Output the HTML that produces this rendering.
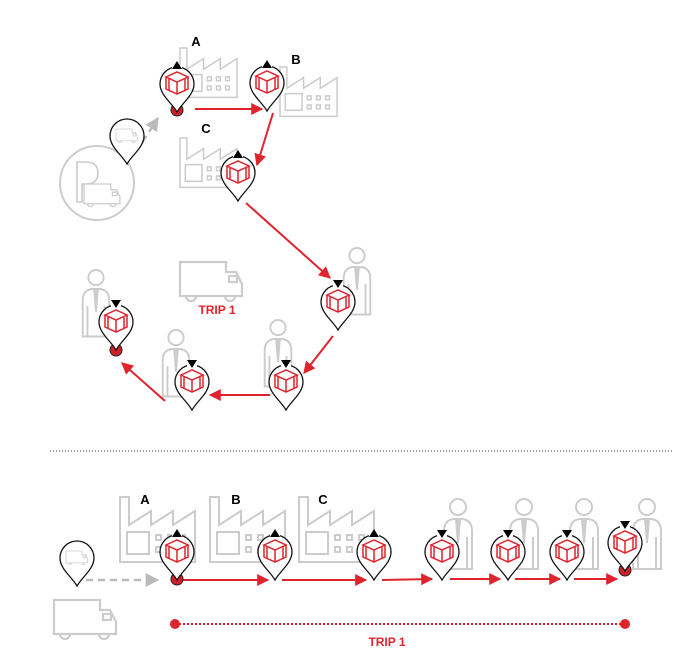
<!DOCTYPE html>
<html><head><meta charset="utf-8"><style>
html,body{margin:0;padding:0;background:#fff;}
svg{display:block;}
text{font-family:"Liberation Sans",sans-serif;font-weight:bold;}
</style></head><body>
<svg width="698" height="668" viewBox="0 0 698 668" xmlns="http://www.w3.org/2000/svg">
<defs>
<marker id="ar" viewBox="0 0 10 10" refX="9" refY="5" markerWidth="6.5" markerHeight="6" orient="auto" markerUnits="strokeWidth"><path d="M0,0 L10,5 L0,10 Z" fill="#e0242e"/></marker>
<marker id="ag" viewBox="0 0 10 10" refX="9" refY="5" markerWidth="5.5" markerHeight="5.5" orient="auto" markerUnits="strokeWidth"><path d="M0,0 L10,5 L0,10 Z" fill="#bbb"/></marker>
<g id="factory" fill="none" stroke="#ccc" stroke-width="2">
<path d="M0,65 V0 H9 V28 L31,14 V28 L53,14 V28 L75,14 V65 Z"/>
<rect x="7" y="35" width="22" height="22"/>
<rect x="36" y="38" width="5" height="5"/><rect x="48" y="38" width="5" height="5"/><rect x="60" y="38" width="5" height="5"/>
<rect x="36" y="50" width="5" height="5"/><rect x="48" y="50" width="5" height="5"/><rect x="60" y="50" width="5" height="5"/>
</g>
<g id="person" fill="#fff" stroke="#ccc" stroke-width="2">
<circle cx="0" cy="8" r="8"/>
<path d="M-14,70 V32 Q-14,21 -4,20 H4 Q14,21 14,32 V70 Z"/>
<path d="M-9,70 V38 M9,70 V38 M0,20 V40 M-2,20 L0,44 L2,20"/>
</g>
<g id="truck" fill="none" stroke="#ccc" stroke-width="2.2">
<path d="M0,0 H46 V10 H56 L62,22 V34 H0 Z"/>
<rect x="49" y="14" width="8" height="6"/>
<path d="M6,34 A5,5 0 0 0 16,34 M45,34 A5,5 0 0 0 55,34"/>
</g>
<g id="cube" fill="none" stroke="#e0242e" stroke-width="1.5">
<path d="M-11,-6 L0,-11 L11,-6 L0,-1 Z"/>
<path d="M-11,-6 V6 L0,11 L11,6 V-6 M0,-1 V11"/>
<path d="M-8,-4 V7 M8,-4 V7"/>
</g>
<path id="pinshape" d="M0,0 C-5,-9 -17,-17 -17,-28 A17,17 0 1 1 17,-28 C17,-17 5,-9 0,0 Z" fill="#fff" stroke="#111" stroke-width="1.3"/>
<g id="pinup"><use href="#pinshape"/><rect x="-5" y="-47" width="10" height="4" fill="#fff"/><path d="M-5,-43 L0,-51 L5,-43 Z" fill="#000"/><use href="#cube" transform="translate(0,-29)"/></g>
<g id="pindown"><use href="#pinshape"/><rect x="-5" y="-47" width="10" height="4" fill="#fff"/><path d="M-5,-50 L5,-50 L0,-42 Z" fill="#000"/><use href="#cube" transform="translate(0,-29)"/></g>
<g id="pintruck"><use href="#pinshape"/><g transform="translate(-11,-35) scale(0.35)"><use href="#truck"/></g></g>
</defs>

<!-- TOP SECTION -->
<g transform="translate(180,48) scale(0.76)"><use href="#factory"/></g>
<g transform="translate(280,67) scale(0.76)"><use href="#factory"/></g>
<g transform="translate(180,138) scale(0.76)"><use href="#factory"/></g>
<text x="196" y="46" font-size="13" text-anchor="middle" fill="#000">A</text>
<text x="296" y="64" font-size="13" text-anchor="middle" fill="#000">B</text>
<text x="206" y="133" font-size="13" text-anchor="middle" fill="#000">C</text>

<circle cx="97" cy="183" r="37" fill="none" stroke="#ccc" stroke-width="2"/>
<path d="M77,202 V162 H86 Q98,162 98,173 Q98,184 86,184 H82 V202 Z" fill="none" stroke="#ccc" stroke-width="1.6"/>
<g transform="translate(84,184) scale(0.58)"><use href="#truck"/></g>

<line x1="136" y1="152" x2="158" y2="118" stroke="#bbb" stroke-width="2.5" stroke-dasharray="7,5" marker-end="url(#ag)"/>
<use href="#pintruck" transform="translate(127,164)"/>

<g transform="translate(357,248) scale(0.95)"><use href="#person"/></g>
<g transform="translate(278,320) scale(0.95)"><use href="#person"/></g>
<g transform="translate(176,330) scale(0.95)"><use href="#person"/></g>
<g transform="translate(96,270) scale(0.95)"><use href="#person"/></g>

<g transform="translate(180,262)"><use href="#truck"/></g>
<text x="217" y="314" font-size="12" text-anchor="middle" fill="#e0242e">TRIP 1</text>

<g stroke="#e0242e" stroke-width="2" fill="none">
<line x1="195" y1="109" x2="262" y2="109" marker-end="url(#ar)"/>
<line x1="273" y1="113" x2="257" y2="165" marker-end="url(#ar)"/>
<line x1="246" y1="203" x2="330" y2="278" marker-end="url(#ar)"/>
<line x1="333" y1="336" x2="304" y2="373" marker-end="url(#ar)"/>
<line x1="270" y1="395" x2="210" y2="395" marker-end="url(#ar)"/>
<line x1="165" y1="401" x2="122" y2="363" marker-end="url(#ar)"/>
</g>

<circle cx="177" cy="110" r="6" fill="#d0212a" stroke="#222" stroke-width="1"/>
<use href="#pinup" transform="translate(177,112)"/>
<use href="#pinup" transform="translate(267,111)"/>
<use href="#pinup" transform="translate(238,201)"/>
<use href="#pindown" transform="translate(338,330)"/>
<use href="#pindown" transform="translate(286,410)"/>
<use href="#pindown" transform="translate(192,410)"/>
<circle cx="116" cy="350" r="6" fill="#d0212a" stroke="#222" stroke-width="1"/>
<use href="#pindown" transform="translate(116,350)"/>

<line x1="50" y1="451" x2="672" y2="451" stroke="#333" stroke-width="1" stroke-dasharray="1,2"/>

<!-- BOTTOM SECTION -->
<g transform="translate(120,497)"><use href="#factory"/></g>
<g transform="translate(210,497)"><use href="#factory"/></g>
<g transform="translate(299,497)"><use href="#factory"/></g>
<text x="145" y="504" font-size="13" text-anchor="middle" fill="#000">A</text>
<text x="236" y="504" font-size="13" text-anchor="middle" fill="#000">B</text>
<text x="323" y="504" font-size="13" text-anchor="middle" fill="#000">C</text>

<g transform="translate(458,499)"><use href="#person"/></g>
<g transform="translate(524,499)"><use href="#person"/></g>
<g transform="translate(584,499)"><use href="#person"/></g>
<g transform="translate(647,499)"><use href="#person"/></g>

<g transform="translate(54,600)"><use href="#truck"/></g>

<line x1="86" y1="580" x2="158" y2="580" stroke="#bbb" stroke-width="2.5" stroke-dasharray="7,5" marker-end="url(#ag)"/>
<use href="#pintruck" transform="translate(77,586)"/>

<g stroke="#e0242e" stroke-width="2" fill="none">
<line x1="183" y1="580" x2="268" y2="580" marker-end="url(#ar)"/>
<line x1="282" y1="580" x2="366" y2="580" marker-end="url(#ar)"/>
<line x1="382" y1="580" x2="432" y2="579" marker-end="url(#ar)"/>
<line x1="450" y1="579" x2="500" y2="579" marker-end="url(#ar)"/>
<line x1="515" y1="579" x2="560" y2="579" marker-end="url(#ar)"/>
<line x1="574" y1="579" x2="617" y2="579" marker-end="url(#ar)"/>
</g>

<circle cx="177" cy="579" r="6" fill="#d0212a" stroke="#222" stroke-width="1"/>
<use href="#pinup" transform="translate(177,580)"/>
<use href="#pinup" transform="translate(275,580)"/>
<use href="#pinup" transform="translate(374,580)"/>
<use href="#pindown" transform="translate(442,580)"/>
<use href="#pindown" transform="translate(508,580)"/>
<use href="#pindown" transform="translate(567,580)"/>
<circle cx="625" cy="570" r="6" fill="#d0212a" stroke="#222" stroke-width="1"/>
<use href="#pindown" transform="translate(625,571)"/>

<line x1="175" y1="624" x2="625" y2="624" stroke="#e0242e" stroke-width="2" stroke-dasharray="2,2"/>
<circle cx="175" cy="624" r="5" fill="#e0242e"/>
<circle cx="625" cy="624" r="5" fill="#e0242e"/>
<text x="387" y="646" font-size="12" text-anchor="middle" fill="#e0242e">TRIP 1</text>
</svg>
</body></html>
